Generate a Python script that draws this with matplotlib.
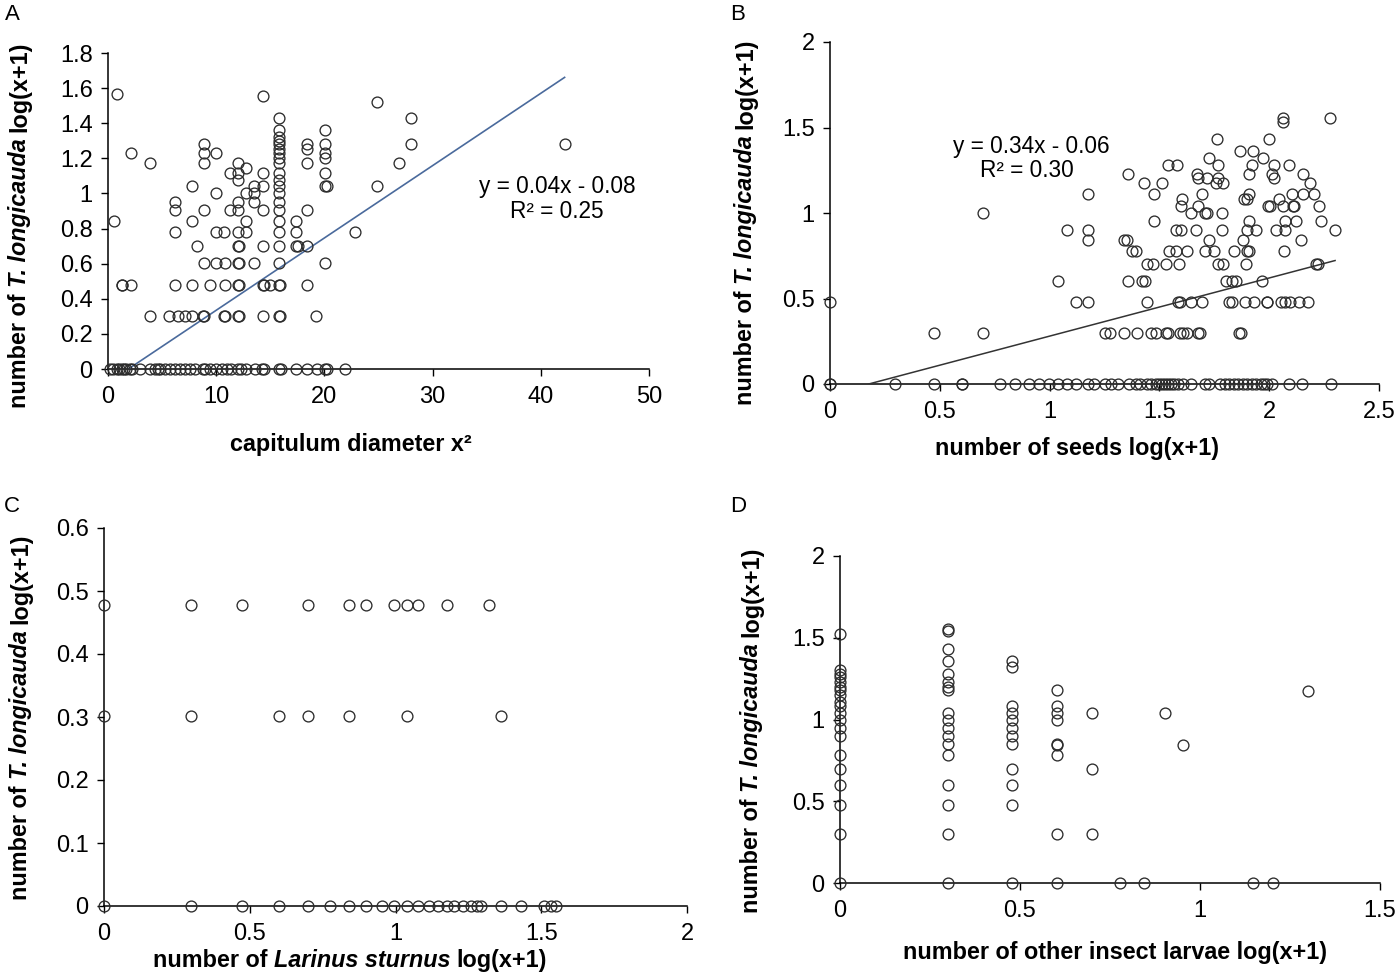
import matplotlib
matplotlib.use("Agg")
import matplotlib.pyplot as plt
from matplotlib.ticker import FuncFormatter, MultipleLocator

plt.rcParams['font.family'] = ['Liberation Sans', 'DejaVu Sans']

# ---------------- data ----------------
# Panel A: capitulum diameter x^2 vs T. longicauda log(x+1); rows by y level
A_LEVELS = [0.0, 0.301, 0.477, 0.602, 0.699, 0.778, 0.845, 0.903, 0.954, 1.0,
            1.041, 1.079, 1.114, 1.146, 1.176, 1.204, 1.23, 1.255, 1.279, 1.30,
            1.322, 1.362, 1.431, 1.52, 1.556, 1.568]
A_XS = [
    [0.2, 0.5, 0.8, 1.0, 1.26, 1.5, 1.7, 2.0, 2.2, 2.96, 3.9, 4.3, 4.6, 4.8, 5.3, 5.7,
     6.2, 6.65, 7.1, 7.6, 8.0, 8.8, 9.0, 9.4, 10.0, 10.5, 11.0, 11.4, 12.0, 12.25,
     12.8, 13.6, 14.2, 14.4, 15.8, 16.0, 17.4, 18.4, 19.3, 20.1, 20.25, 21.9],
    [3.9, 5.6, 6.5, 7.1, 7.75, 8.8, 8.9, 10.7, 10.8, 12.0, 12.1, 14.3, 15.8, 15.9, 19.2],
    [1.26, 1.3, 2.1, 6.2, 7.75, 9.4, 10.8, 12.0, 12.1, 14.3, 14.4, 15.0, 15.8, 15.9, 18.4],
    [8.87, 10.0, 10.8, 12.05, 12.1, 13.5, 15.8, 20.1],
    [8.25, 12.0, 12.1, 14.3, 15.8, 17.4, 17.6, 18.4],
    [6.2, 10.0, 10.7, 12.05, 12.8, 15.8, 17.4, 22.8],
    [0.6, 7.75, 12.8, 15.8, 17.4],
    [6.2, 8.87, 11.3, 12.05, 14.3, 15.8, 18.4],
    [6.2, 12.05, 13.5, 15.8],
    [10.0, 12.8, 13.5, 15.8],
    [7.75, 13.5, 14.3, 15.8, 20.1, 20.2, 24.9],
    [12.05, 15.8],
    [11.3, 12.05, 14.3, 15.8, 20.1],
    [12.8],
    [3.9, 8.87, 12.05, 15.8, 18.4, 26.9],
    [15.8, 20.1],
    [2.1, 8.87, 10.0, 15.8, 20.1],
    [15.8, 18.4],
    [8.87, 15.8, 18.4, 20.1, 28.0, 42.2],
    [15.8],
    [15.8],
    [15.8, 20.1],
    [15.8, 28.0],
    [24.9],
    [14.3],
    [0.8],
]
A_FIT = (0.0412, -0.0775)      # drawn trend line (slope, intercept)
A_FIT_RANGE = (2.0, 42.2)

# Panel B: number of seeds log(x+1)
B_LEVELS = [0.0, 0.301, 0.477, 0.602, 0.699, 0.778, 0.845, 0.903, 0.954, 1.0,
            1.041, 1.079, 1.114, 1.176, 1.204, 1.23, 1.279, 1.322, 1.362, 1.431,
            1.531, 1.556]
B_XS = [
    [0, 0, 0.295, 0.474, 0.60, 0.60, 0.772, 0.843, 0.904, 0.951, 0.996, 1.037, 1.077,
     1.118, 1.175, 1.203, 1.25, 1.28, 1.311, 1.362, 1.392, 1.413, 1.443, 1.463, 1.484,
     1.50, 1.514, 1.524, 1.54, 1.555, 1.565, 1.585, 1.606, 1.646, 1.707, 1.728, 1.778,
     1.799, 1.819, 1.839, 1.86, 1.88, 1.90, 1.921, 1.941, 1.961, 1.976, 1.992, 2.012,
     2.089, 2.15, 2.28],
    [0.474, 0.695, 1.254, 1.276, 1.339, 1.398, 1.463, 1.484, 1.53, 1.539, 1.596, 1.606,
     1.626, 1.677, 1.687, 1.864, 1.87],
    [0, 1.118, 1.175, 1.443, 1.585, 1.596, 1.646, 1.693, 1.819, 1.829, 1.89, 1.931,
     1.988, 1.992, 2.053, 2.073, 2.093, 2.134, 2.175],
    [1.037, 1.358, 1.423, 1.433, 1.805, 1.829, 1.85, 1.967],
    [1.443, 1.47, 1.53, 1.591, 1.768, 1.789, 1.894, 2.215, 2.22],
    [1.376, 1.392, 1.545, 1.575, 1.626, 1.707, 1.748, 1.841, 1.9, 1.91, 2.069],
    [1.175, 1.339, 1.352, 1.728, 1.882, 2.144],
    [1.077, 1.175, 1.575, 1.6, 1.667, 1.785, 1.9, 1.941, 2.033, 2.073, 2.30],
    [1.474, 1.91, 2.073, 2.124, 2.236],
    [0.695, 1.646, 1.707, 1.717, 1.785],
    [1.598, 1.677, 1.996, 2.002, 2.063, 2.11, 2.114, 2.226],
    [1.602, 1.886, 1.9, 2.045],
    [1.175, 1.474, 1.693, 1.91, 2.104, 2.154, 2.205],
    [1.429, 1.514, 1.758, 1.789, 2.185],
    [1.677, 1.717, 1.768, 2.022],
    [1.358, 1.673, 1.91, 2.012, 2.154],
    [1.541, 1.581, 1.768, 1.923, 2.022, 2.089],
    [1.724, 1.972],
    [1.866, 1.927],
    [1.764, 1.998],
    [2.063],
    [2.063, 2.276],
]
B_FIT = (0.34, -0.06)
B_FIT_RANGE = (0.176, 2.30)

# Panel C: number of Larinus sturnus log(x+1)
C_LEVELS = [0.0, 0.301, 0.477]
C_XS = [
    [0, 0.3, 0.475, 0.6, 0.7, 0.774, 0.84, 0.9, 0.953, 0.995, 1.04, 1.076, 1.114,
     1.145, 1.176, 1.2, 1.23, 1.26, 1.28, 1.295, 1.362, 1.43, 1.51, 1.535, 1.55],
    [0, 0.3, 0.6, 0.7, 0.84, 1.04, 1.362],
    [0, 0.30, 0.475, 0.70, 0.84, 0.90, 0.995, 1.04, 1.076, 1.176, 1.32],
]

# Panel D: number of other insect larvae log(x+1); columns by x level
D_XLEVELS = [0.0, 0.301, 0.477, 0.602, 0.699, 0.778, 0.845, 0.903, 0.954, 1.146,
             1.204, 1.301]
D_YS = [
    [0, 0.30, 0.477, 0.6, 0.7, 0.78, 0.9, 0.95, 1.0, 1.04, 1.08, 1.11, 1.15, 1.18,
     1.2, 1.23, 1.26, 1.28, 1.30, 1.52],
    [0, 0.3, 0.477, 0.6, 0.78, 0.85, 0.9, 0.95, 1.0, 1.04, 1.18, 1.2, 1.23, 1.28,
     1.36, 1.43, 1.54, 1.556],
    [0, 0.477, 0.6, 0.7, 0.85, 0.9, 0.95, 1.0, 1.04, 1.08, 1.32, 1.36],
    [0, 0.3, 0.78, 0.845, 0.85, 1.0, 1.04, 1.08, 1.18],
    [0.3, 0.7, 1.04],
    [0],
    [0],
    [1.04],
    [0.845],
    [0],
    [0],
    [1.176],
]

# ---------------- figure ----------------
W, H = 1400, 976
fig = plt.figure(figsize=(W / 100, H / 100), dpi=100)

def px_axes(l, r, t, b):
    return fig.add_axes([l / W, 1 - b / H, (r - l) / W, (b - t) / H])

MK = dict(marker='o', linestyle='none', markersize=7.8, markerfacecolor='none',
          markeredgecolor='#2b2b2b', markeredgewidth=0.95, clip_on=False, zorder=5)
TICK_FS = 17
fmt = FuncFormatter(lambda v, p: ('%g' % round(v, 3)))

def style_axes(ax, xmax, xstep, ymax, ystep):
    ax.set_xlim(0, xmax)
    ax.set_ylim(0, ymax)
    ax.xaxis.set_major_locator(MultipleLocator(xstep))
    ax.yaxis.set_major_locator(MultipleLocator(ystep))
    ax.xaxis.set_major_formatter(fmt)
    ax.yaxis.set_major_formatter(fmt)
    for s in ('top', 'right'):
        ax.spines[s].set_visible(False)
    for s in ('left', 'bottom'):
        ax.spines[s].set_linewidth(1.1)
        ax.spines[s].set_color('black')
    ax.tick_params(direction='out', length=5, width=1.0, labelsize=TICK_FS,
                   colors='black')
    ax.tick_params(axis='x', pad=7)
    ax.tick_params(axis='y', pad=6)
    ax.set_facecolor('none')

def plot_rows(ax, levels, xs):
    for yv, row in zip(levels, xs):
        ax.plot(row, [yv] * len(row), **MK)

def plot_cols(ax, xlevels, ys):
    for xv, col in zip(xlevels, ys):
        ax.plot([xv] * len(col), col, **MK)

axA = px_axes(108, 649, 53, 369)
style_axes(axA, 50, 10, 1.8, 0.2)
plot_rows(axA, A_LEVELS, A_XS)
xa = list(A_FIT_RANGE)
axA.plot(xa, [A_FIT[0] * v + A_FIT[1] for v in xa], color='#4a6a9c', lw=1.2, zorder=4)

axB = px_axes(830, 1379, 42, 384)
style_axes(axB, 2.5, 0.5, 2, 0.5)
plot_rows(axB, B_LEVELS, B_XS)
xb = list(B_FIT_RANGE)
axB.plot(xb, [B_FIT[0] * v + B_FIT[1] for v in xb], color='#333333', lw=1.1, zorder=4)

axC = px_axes(104, 687, 528, 906)
style_axes(axC, 2, 0.5, 0.6, 0.1)
plot_rows(axC, C_LEVELS, C_XS)

axD = px_axes(840, 1380, 556, 883)
style_axes(axD, 1.5, 0.5, 2, 0.5)
plot_cols(axD, D_XLEVELS, D_YS)

# ---------------- text ----------------
fig.canvas.draw()
renderer = fig.canvas.get_renderer()
LAB_FS = 16.8

def text_w(s, style):
    t = fig.text(0, 0, s, fontsize=LAB_FS, fontweight='bold', fontstyle=style)
    w = t.get_window_extent(renderer).width
    t.remove()
    return w

SPACE = text_w('a a', 'normal') - text_w('aa', 'normal')

def rich(cx, cy, parts, rotation=0):
    """parts: list of (text, style); cx, cy pixel coords (cy = baseline for
    horizontal, cx = baseline for vertical)."""
    ws = [text_w(s, st) for s, st in parts]
    total = sum(ws) + SPACE * (len(parts) - 1)
    pos = -total / 2
    for (s, st), w in zip(parts, ws):
        if rotation == 0:
            x, y = cx + pos, cy
        else:
            x, y = cx, cy - pos  # going upward on screen
        fig.text(x / W, 1 - y / H, s, fontsize=LAB_FS, fontweight='bold',
                 fontstyle=st, ha='left', va='baseline', rotation=rotation,
                 rotation_mode='anchor')
        pos += w + SPACE

YLAB = [('number of', 'normal'), ('T. longicauda', 'italic'), ('log(x+1)', 'normal')]
rich(26, 225, YLAB, 90)
rich(752, 222, YLAB, 90)
rich(27, 717, YLAB, 90)
rich(758, 730, YLAB, 90)

rich(351, 451, [('capitulum diameter x\u00b2', 'normal')])
rich(1077, 455, [('number of seeds log(x+1)', 'normal')])
rich(350, 967, [('number of', 'normal'), ('Larinus sturnus', 'italic'), ('log(x+1)', 'normal')])
rich(1115, 959, [('number of other insect larvae log(x+1)', 'normal')])

for lab, x, y in [('A', 12, 15), ('B', 738, 15), ('C', 12, 507), ('D', 738, 507)]:
    fig.text(x / W, 1 - y / H, lab, fontsize=16, ha='center', va='center')

EQ_FS = 16.3
fig.text(557 / W, 1 - 186 / H, 'y = 0.04x - 0.08', fontsize=EQ_FS, ha='center', va='center')
fig.text(557 / W, 1 - 211 / H, 'R\u00b2 = 0.25', fontsize=EQ_FS, ha='center', va='center')
fig.text(1031 / W, 1 - 146 / H, 'y = 0.34x - 0.06', fontsize=EQ_FS, ha='center', va='center')
fig.text(1027 / W, 1 - 171 / H, 'R\u00b2 = 0.30', fontsize=EQ_FS, ha='center', va='center')

fig.savefig('out.png', dpi=100)
